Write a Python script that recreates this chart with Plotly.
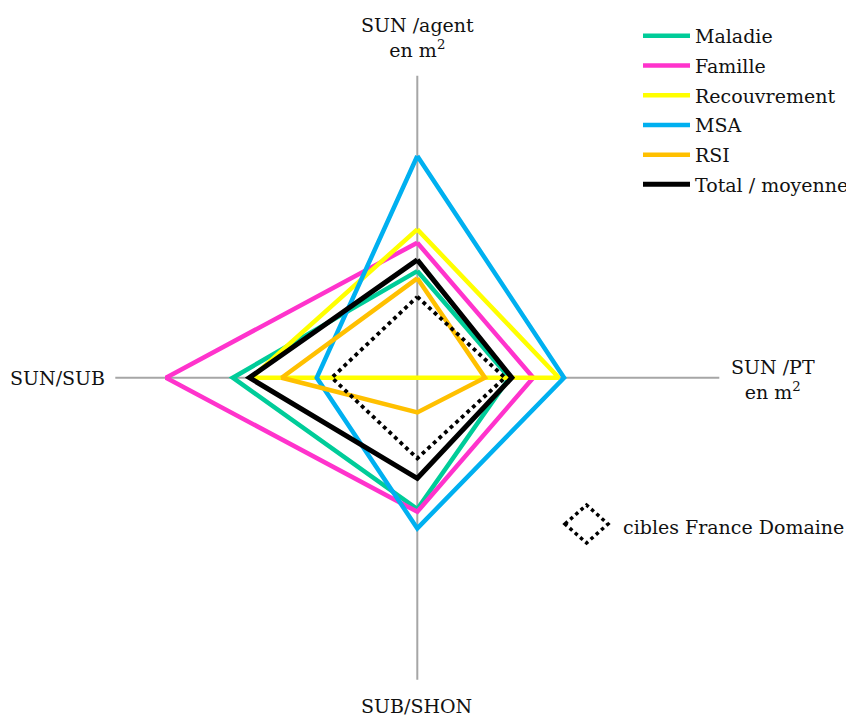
import plotly.graph_objects as go

# ---- data ----
categories = ["SUN /agent en m²", "SUN /PT en m²", "SUB/SHON", "SUN/SUB"]
series_names = ["Maladie", "Famille", "Recouvrement", "MSA", "RSI", "Total / moyenne"]
maladie = [35.3, 30.5, 43.5, 61.1]
famille = [44.7, 38.4, 44.4, 83.2]
recouvrement = [49.1, 46.9, 0.0, 54.9]
msa = [73.4, 48.6, 49.9, 33.3]
rsi = [32.9, 22.4, 11.5, 44.9]
total = [39.0, 31.3, 33.3, 55.6]
cibles = [26.8, 29.0, 26.7, 28.3]
cibles_name = "cibles France Domaine"
axis_labels = ["SUN /agent<br>en m<sup>2</sup>", "SUN /PT<br>en m<sup>2</sup>", "SUB/SHON", "SUN/SUB"]

colors = ["#00CC99", "#FF33CC", "#FFFF00", "#00B0F0", "#FFC000", "#000000"]
widths = [4.5, 4.5, 4.5, 4.5, 4.5, 5]
values = [maladie, famille, recouvrement, msa, rsi, total]

FONT = "DejaVu Serif"
TXT = "#111111"
OFF = 8                     # page body margin in the browser
W, H = 854 - OFF, 718 - OFF


def px(x):
    return (x - OFF) / W


def py(y):
    return 1 - (y - OFF) / H


fig = go.Figure()
for i, (name, vals) in enumerate(zip(series_names, values)):
    fig.add_trace(go.Scatterpolar(
        r=vals + vals[:1], theta=categories + categories[:1],
        mode="lines", name=name, legendgroup=name,
        line=dict(color=colors[i], width=widths[i]),
    ))
fig.add_trace(go.Scatterpolar(
    r=cibles + cibles[:1], theta=categories + categories[:1],
    mode="lines", name=cibles_name, showlegend=False,
    line=dict(color="#000000", width=3.8, dash="dot"),
))

cx, cy, R = 417.3, 377.7, 302
fig.update_layout(
    width=W, height=H, autosize=False,
    margin=dict(l=0, r=0, t=0, b=0),
    paper_bgcolor="white", plot_bgcolor="white",
    font=dict(family=FONT, size=19, color=TXT),
    polar=dict(
        domain=dict(x=[px(cx - R), px(cx + R)], y=[py(cy + R), py(cy - R)]),
        bgcolor="white",
        gridshape="linear",
        angularaxis=dict(rotation=90, direction="clockwise", showline=False,
                         gridcolor="#A6A6A6", gridwidth=1.5, showticklabels=False, ticks=""),
        radialaxis=dict(range=[0, 100], showgrid=False, showline=False,
                        showticklabels=False, ticks=""),
    ),
    legend=dict(x=px(638), y=py(17), xanchor="left", yanchor="top",
                traceorder="grouped", tracegroupgap=2, itemwidth=47,
                font=dict(family=FONT, size=19, color=TXT),
                bgcolor="rgba(0,0,0,0)"),
    showlegend=True,
)

# axis labels
label_pos = [(417.5, 37.5), (773, 379), (416.5, 706), (57.5, 378)]
for txt, (x, y) in zip(axis_labels, label_pos):
    fig.add_annotation(x=px(x), y=py(y), xref="paper", yref="paper",
                       text=txt, showarrow=False, xanchor="center", yanchor="middle",
                       font=dict(family=FONT, size=19, color=TXT))

# legend entry for the dotted target series
fig.add_shape(type="path", xref="paper", yref="paper",
              path=(f"M{px(565)},{py(524)} L{px(586.5)},{py(505)} "
                    f"L{px(608)},{py(524)} L{px(586.5)},{py(543)} Z"),
              line=dict(color="#000000", width=3.5, dash="dot"))
fig.add_annotation(x=px(621), y=py(527), xref="paper", yref="paper",
                   text=cibles_name, showarrow=False, xanchor="left", yanchor="middle",
                   font=dict(family=FONT, size=19, color=TXT))

fig.write_html("out.html")
